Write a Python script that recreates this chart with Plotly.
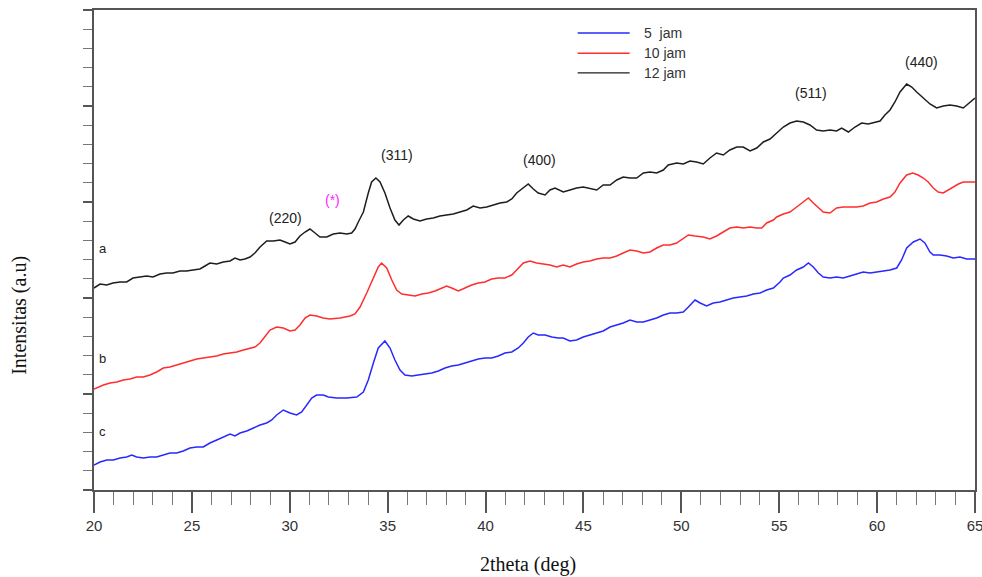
import plotly.graph_objects as go

# 2theta (deg) and relative intensity (a.u.) for each milling time
theta_12 = [20.0, 20.31, 20.65, 20.97, 21.33, 21.67, 21.99, 22.35, 22.69, 23.01, 23.37, 23.71, 24.03, 24.39,
            24.73, 25.06, 25.41, 25.67, 25.92, 26.27, 26.60, 26.95, 27.20, 27.46, 27.71, 27.97, 28.22, 28.48,
            28.82, 29.16, 29.50, 29.76, 30.01, 30.27, 30.52, 30.78, 31.03, 31.29, 31.54, 31.89, 32.22, 32.57,
            32.91, 33.16, 33.33, 33.50, 33.76, 34.01, 34.18, 34.40, 34.61, 34.86, 35.12, 35.37, 35.58, 35.80,
            36.05, 36.31, 36.65, 36.99, 37.33, 37.67, 38.01, 38.35, 38.69, 39.04, 39.37, 39.72, 40.06, 40.40,
            40.74, 41.08, 41.34, 41.59, 41.93, 42.18, 42.44, 42.69, 43.04, 43.29, 43.55, 43.80, 43.97, 44.31,
            44.65, 44.99, 45.25, 45.68, 46.01, 46.36, 46.70, 47.03, 47.38, 47.72, 48.06, 48.40, 48.74, 49.08,
            49.33, 49.76, 50.10, 50.44, 50.78, 51.12, 51.46, 51.80, 52.14, 52.48, 52.83, 53.16, 53.51, 53.85,
            54.19, 54.53, 54.87, 55.21, 55.55, 55.89, 56.23, 56.57, 56.91, 57.25, 57.59, 57.93, 58.19, 58.53,
            58.87, 59.21, 59.55, 59.89, 60.15, 60.40, 60.66, 60.91, 61.17, 61.51, 61.77, 62.02, 62.36, 62.70,
            63.04, 63.38, 63.72, 64.06, 64.40, 64.74, 65.0]
int_12 = [202, 206, 205, 207, 208, 208, 212, 213, 214, 213, 216, 217, 217, 219,
          219, 220, 221, 224, 227, 226, 228, 229, 232, 230, 231, 233, 237, 243,
          249, 249, 250, 248, 246, 248, 254, 258, 261, 257, 253, 253, 256, 257,
          256, 257, 261, 268, 278, 297, 308, 312, 308, 297, 282, 270, 265, 270,
          274, 271, 269, 271, 272, 274, 275, 276, 278, 280, 284, 282, 283, 285,
          287, 288, 291, 297, 302, 306, 301, 297, 295, 300, 302, 300, 298, 300,
          302, 303, 302, 300, 305, 305, 310, 313, 312, 312, 317, 318, 317, 320,
          325, 327, 326, 329, 328, 326, 332, 337, 335, 340, 343, 343, 339, 342,
          348, 351, 357, 363, 367, 369, 368, 365, 360, 359, 360, 359, 362, 358,
          363, 367, 366, 368, 369, 375, 380, 388, 398, 406, 403, 398, 392, 386,
          382, 384, 385, 384, 382, 388, 392]

theta_10 = [20.0, 20.48, 20.82, 21.16, 21.50, 21.84, 22.18, 22.52, 22.86, 23.20, 23.54, 23.88, 24.22, 24.56,
            24.90, 25.25, 25.58, 25.92, 26.27, 26.60, 26.95, 27.29, 27.63, 27.97, 28.22, 28.48, 28.73, 28.99,
            29.33, 29.67, 30.01, 30.27, 30.52, 30.78, 31.03, 31.37, 31.71, 32.05, 32.57, 33.08, 33.33, 33.59,
            33.93, 34.27, 34.52, 34.69, 34.95, 35.21, 35.46, 35.72, 36.05, 36.40, 36.74, 37.08, 37.42, 37.76,
            38.01, 38.27, 38.61, 38.95, 39.29, 39.63, 39.97, 40.31, 40.65, 40.99, 41.34, 41.59, 41.93, 42.27,
            42.61, 42.95, 43.29, 43.63, 43.97, 44.31, 44.65, 44.99, 45.33, 45.68, 46.01, 46.36, 46.70, 47.03,
            47.38, 47.72, 48.06, 48.40, 48.74, 49.08, 49.42, 49.76, 50.10, 50.36, 50.70, 51.12, 51.46, 51.80,
            52.14, 52.48, 52.83, 53.16, 53.51, 53.85, 54.11, 54.36, 54.70, 54.87, 55.21, 55.55, 55.89, 56.23,
            56.49, 56.74, 57.00, 57.25, 57.59, 57.93, 58.27, 58.61, 58.96, 59.29, 59.64, 59.98, 60.32, 60.66,
            60.91, 61.17, 61.51, 61.82, 62.10, 62.36, 62.61, 62.87, 63.12, 63.38, 63.64, 63.89, 64.15, 64.40,
            64.74, 65.0]
int_10 = [101, 105, 107, 108, 110, 111, 113, 113, 115, 118, 122, 123, 125, 127,
          129, 131, 132, 133, 134, 136, 137, 138, 140, 142, 143, 147, 154, 160,
          163, 162, 159, 160, 165, 172, 175, 174, 172, 171, 172, 174, 176, 183,
          197, 213, 223, 227, 222, 210, 200, 196, 195, 194, 196, 197, 199, 202,
          204, 202, 199, 202, 205, 207, 208, 211, 212, 212, 215, 220, 227, 229,
          227, 226, 225, 223, 225, 223, 226, 228, 229, 231, 232, 232, 234, 237,
          240, 239, 237, 238, 242, 245, 245, 247, 252, 255, 254, 253, 251, 254,
          258, 262, 263, 262, 263, 262, 262, 267, 270, 273, 276, 278, 283, 288,
          292, 287, 282, 278, 277, 282, 283, 283, 283, 284, 287, 288, 291, 293,
          298, 307, 315, 317, 315, 312, 308, 302, 298, 297, 300, 303, 306, 308,
          308, 308]

theta_5 = [20.0, 20.31, 20.65, 20.99, 21.33, 21.67, 21.93, 22.18, 22.52, 22.86, 23.20, 23.54, 23.88, 24.22,
           24.56, 24.90, 25.25, 25.58, 25.92, 26.27, 26.60, 26.95, 27.20, 27.46, 27.80, 28.14, 28.48, 28.82,
           29.08, 29.33, 29.67, 30.01, 30.35, 30.61, 30.86, 31.12, 31.37, 31.71, 31.97, 32.40, 32.91, 33.42,
           33.76, 34.01, 34.27, 34.52, 34.86, 35.12, 35.37, 35.63, 35.88, 36.23, 36.56, 36.91, 37.25, 37.59,
           37.93, 38.27, 38.61, 38.95, 39.29, 39.63, 39.97, 40.31, 40.65, 40.99, 41.34, 41.67, 41.93, 42.18,
           42.44, 42.69, 43.04, 43.38, 43.72, 43.97, 44.31, 44.65, 44.99, 45.33, 45.68, 46.01, 46.36, 46.70,
           47.03, 47.38, 47.72, 48.06, 48.40, 48.74, 49.08, 49.42, 49.76, 50.10, 50.36, 50.70, 50.96, 51.29,
           51.63, 51.97, 52.31, 52.65, 53.00, 53.34, 53.68, 54.02, 54.36, 54.70, 55.04, 55.21, 55.55, 55.89,
           56.23, 56.49, 56.74, 57.00, 57.25, 57.59, 57.93, 58.27, 58.61, 58.96, 59.29, 59.64, 59.98, 60.32,
           60.66, 61.00, 61.25, 61.51, 61.85, 62.19, 62.44, 62.70, 62.87, 63.21, 63.55, 63.89, 64.23, 64.57,
           65.0]
int_5 = [25, 28, 30, 30, 32, 33, 35, 33, 32, 33, 33, 35, 37, 37,
         39, 42, 43, 43, 47, 50, 53, 56, 54, 57, 59, 62, 65, 67,
         70, 75, 80, 77, 75, 78, 85, 92, 95, 95, 93, 92, 92, 93,
         98, 110, 127, 142, 149, 142, 130, 120, 115, 114, 115, 116, 117, 119,
         122, 124, 125, 127, 129, 131, 132, 132, 134, 137, 138, 142, 147, 153,
         157, 155, 155, 153, 152, 152, 149, 150, 153, 155, 157, 159, 163, 165,
         167, 170, 168, 168, 170, 172, 175, 177, 177, 178, 183, 190, 187, 184,
         187, 188, 190, 192, 193, 194, 196, 197, 200, 202, 208, 212, 215, 220,
         223, 227, 223, 217, 213, 212, 213, 212, 214, 216, 218, 217, 218, 219,
         220, 222, 230, 242, 248, 251, 247, 238, 235, 235, 234, 232, 233, 231,
         231]

series_names = ["5  jam", "10 jam", "12 jam"]
series_colors = ["rgb(40,40,255)", "rgb(255,45,45)", "rgb(30,30,30)"]
series_theta = [theta_5, theta_10, theta_12]
series_int = [int_5, int_10, int_12]

# Miller indices of the reflections and where their labels sit
peak_labels = ["(220)", "(*)", "(311)", "(400)", "(511)", "(440)"]
peak_label_theta = [29.76, 32.16, 35.48, 42.78, 56.62, 62.29]
peak_label_int = [272, 290, 335, 330, 397, 428]
peak_label_colors = ["#222222", "#ff22ff", "#222222", "#222222", "#222222", "#222222"]

# sample letters beside the start of each pattern
sample_letters = ["a", "b", "c"]
sample_letter_int = [242, 132, 59]

fig = go.Figure()
for name, color, th, it in zip(series_names, series_colors, series_theta, series_int):
    fig.add_trace(go.Scatter(x=th, y=it, mode="lines", name=name,
                             line=dict(color=color, width=1.5), showlegend=False))

annotations = []
for txt, xv, yv, c in zip(peak_labels, peak_label_theta, peak_label_int, peak_label_colors):
    annotations.append(dict(x=xv, y=yv, xref="x", yref="y", text=txt, showarrow=False,
                            font=dict(family="Liberation Sans, Arial", size=14, color=c)))
for txt, yv in zip(sample_letters, sample_letter_int):
    annotations.append(dict(x=20.45, y=yv, xref="x", yref="y", text=txt, showarrow=False,
                            font=dict(family="Liberation Sans, Arial", size=13, color="#222222")))

# hand-drawn legend entries (line sample + label)
shapes = []
legend_rows = [0.952, 0.910, 0.869]
for name, color, ly in zip(series_names, series_colors, legend_rows):
    shapes.append(dict(type="line", xref="paper", yref="paper", x0=0.549, x1=0.608, y0=ly, y1=ly,
                       line=dict(color=color, width=1.4)))
    annotations.append(dict(x=0.622, y=ly, xref="paper", yref="paper", text=name, showarrow=False,
                            xanchor="left", yanchor="middle",
                            font=dict(family="Liberation Sans, Arial", size=14, color="#333333")))

# axis titles
annotations.append(dict(x=0.493, y=-0.155, xref="paper", yref="paper", text="2theta (deg)",
                        showarrow=False, yanchor="middle",
                        font=dict(family="Liberation Serif, Times New Roman", size=20, color="#111111")))
annotations.append(dict(x=-0.084, y=0.365, xref="paper", yref="paper", text="Intensitas (a.u)",
                        showarrow=False, textangle=-90, xanchor="center", yanchor="middle",
                        font=dict(family="Liberation Serif, Times New Roman", size=20, color="#111111")))

fig.update_layout(
    width=982, height=577,
    margin=dict(l=94, r=7, t=10, b=87, autoexpand=False),
    paper_bgcolor="white", plot_bgcolor="white",
    annotations=annotations, shapes=shapes,
)
fig.update_xaxes(
    range=[20, 65], tick0=20, dtick=5, ticks="outside", ticklen=21, tickwidth=1.5,
    tickcolor="#555555", showgrid=False, zeroline=False, automargin=False,
    ticklabeloverflow="allow",
    showline=True, linecolor="#555555", linewidth=1.5, mirror=True,
    tickfont=dict(family="Liberation Sans, Arial", size=15, color="#333333"),
    minor=dict(dtick=1, ticks="outside", ticklen=13, tickwidth=1, tickcolor="#777777", showgrid=False),
)
fig.update_yaxes(
    range=[0, 480], tick0=0, dtick=96, ticks="outside", ticklen=9, tickwidth=1.6,
    tickcolor="#555555", showgrid=False, zeroline=False, showticklabels=False, automargin=False,
    showline=True, linecolor="#555555", linewidth=1.5, mirror=True,
    minor=dict(dtick=19.2, ticks="outside", ticklen=9, tickwidth=1, tickcolor="#777777", showgrid=False),
)

fig.write_html("out.html")
